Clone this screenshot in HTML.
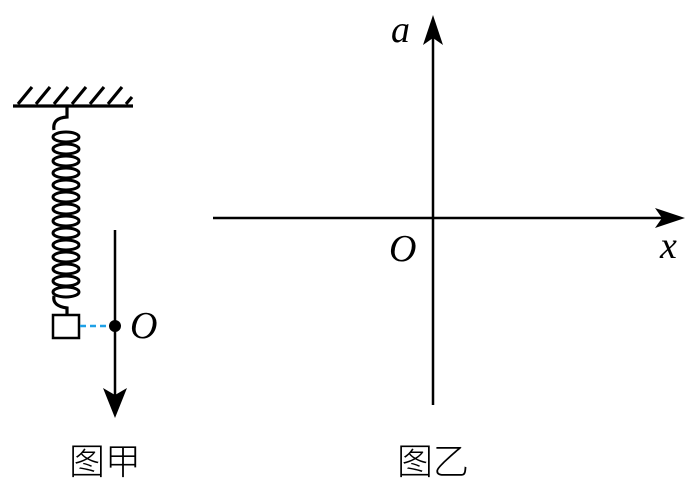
<!DOCTYPE html>
<html><head><meta charset="utf-8"><style>
body{margin:0;background:#fff}
</style></head><body>
<svg width="700" height="495" viewBox="0 0 700 495" xmlns="http://www.w3.org/2000/svg">
<g stroke="#000" stroke-width="3.2" fill="none">
<line x1="13" y1="106" x2="133" y2="106"/>
<path d="M18 104 L32 87 M36 104 L50 87 M54 104 L68 87 M72 104 L86 87 M90 104 L104 87 M108 104 L122 87 M126 104 L132 97"/>
<path d="M67 107 V117 Q52 118 54 130"/>
<path d="M67 318 V308 Q52 306 54 296"/>
</g>
<g stroke="#000" stroke-width="3" fill="none">
<ellipse cx="66" cy="137" rx="13" ry="5"/>
<ellipse cx="66" cy="149" rx="13" ry="5"/>
<ellipse cx="66" cy="161" rx="13" ry="5"/>
<ellipse cx="66" cy="173" rx="13" ry="5"/>
<ellipse cx="66" cy="185" rx="13" ry="5"/>
<ellipse cx="66" cy="197" rx="13" ry="5"/>
<ellipse cx="66" cy="209" rx="13" ry="5"/>
<ellipse cx="66" cy="221" rx="13" ry="5"/>
<ellipse cx="66" cy="233" rx="13" ry="5"/>
<ellipse cx="66" cy="245" rx="13" ry="5"/>
<ellipse cx="66" cy="257" rx="13" ry="5"/>
<ellipse cx="66" cy="269" rx="13" ry="5"/>
<ellipse cx="66" cy="281" rx="13" ry="5"/>
<ellipse cx="66" cy="292" rx="13" ry="5"/>
</g>
<rect x="53" y="315" width="26" height="23" fill="#fff" stroke="#000" stroke-width="2.5"/>
<line x1="80" y1="326" x2="112" y2="326" stroke="#1ea0e6" stroke-width="2.5" stroke-dasharray="6,4"/>
<line x1="115" y1="230" x2="115" y2="400" stroke="#000" stroke-width="2.5"/>
<polygon points="103,388 115,418 127,388 115,395" fill="#000"/>
<circle cx="115" cy="326" r="6" fill="#000"/>
<text x="130" y="338" font-family="Liberation Serif,serif" font-style="italic" font-size="38">O</text>
<line x1="433" y1="405" x2="433" y2="30" stroke="#000" stroke-width="2.5"/>
<polygon points="423,45 433,15 443,45 433,38" fill="#000"/>
<line x1="213" y1="218" x2="670" y2="218" stroke="#000" stroke-width="2.5"/>
<polygon points="655,208 685,218 655,228 662,218" fill="#000"/>
<text x="391" y="42" font-family="Liberation Serif,serif" font-style="italic" font-size="38">a</text>
<text x="389" y="261" font-family="Liberation Serif,serif" font-style="italic" font-size="38">O</text>
<text x="660" y="258" font-family="Liberation Serif,serif" font-style="italic" font-size="38">x</text>
<text x="105" y="474" text-anchor="middle" font-family="Noto Sans CJK SC,sans-serif" font-weight="300" font-size="36">图甲</text>
<text x="433" y="474" text-anchor="middle" font-family="Noto Sans CJK SC,sans-serif" font-weight="300" font-size="36">图乙</text>
</svg>
</body></html>
